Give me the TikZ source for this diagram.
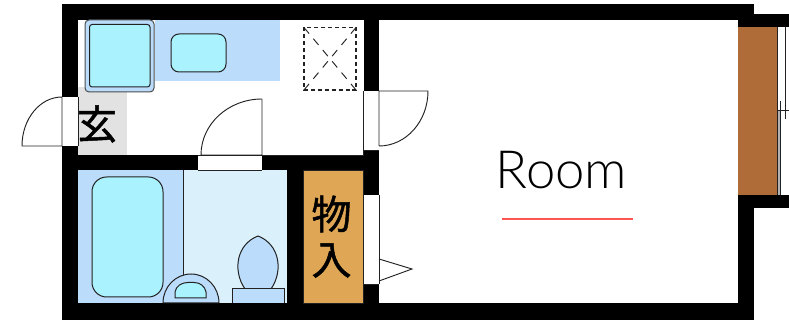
\documentclass[tikz,border=0pt]{standalone}
\usepackage{fontspec}
\setmainfont{Liberation Sans}
\newfontfamily\cjkf[FakeBold=1.2]{Noto Sans CJK JP}
\newfontfamily\roomf{Lato Light}
\definecolor{cyanfill}{HTML}{AAF3FE}
\definecolor{bluefill}{HTML}{BBDCFB}
\definecolor{palefill}{HTML}{DAF1FB}
\definecolor{closet}{HTML}{DFA755}
\definecolor{brownfill}{HTML}{B06C38}
\definecolor{entry}{HTML}{E2E2E2}
\definecolor{redline}{HTML}{FF5555}
\definecolor{ink}{HTML}{222222}
\tikzset{
  wall/.style={fill=black,draw=none},
  fixture/.style={draw=ink,line width=0.75pt},
  doorline/.style={draw=ink,line width=0.7pt},
  hatch/.style={draw=ink,line width=0.8pt,dash pattern=on 3pt off 2.2pt},
  hatchx/.style={draw=ink,line width=0.7pt,dash pattern=on 6pt off 5pt},
  kanji/.style={font=\cjkf\fontsize{30}{30}\selectfont,inner sep=0pt,text=black},
}
\begin{document}
\begin{tikzpicture}[x=0.75pt,y=-0.75pt]
\useasboundingbox (0,0) rectangle (789,323);
% walls
\fill[wall] (62,4) rectangle (754,320);
\fill[wall] (738,14) rectangle (789,27);
\fill[wall] (738,195) rectangle (789,208);
% rooms
\fill[white] (379,20) rectangle (738,303);
\fill[white] (78,20) rectangle (363.5,155);
\fill[entry] (78,87) rectangle (127,155);
\fill[bluefill] (78,170) rectangle (183,303);
\fill[palefill] (183,170) rectangle (287,303);
\fill[closet] (303,170) rectangle (363,303);
\draw[draw=ink,line width=0.5pt] (303,170) rectangle (363,303);
% openings
\fill[white] (62,97) rectangle (78,146);
\fill[white] (198,155) rectangle (262,170);
\fill[white] (363.5,91) rectangle (379,150);
\fill[white] (363.5,195) rectangle (379,284);
% window
\fill[brownfill] (738,27) rectangle (777,195);
\fill[white] (777,27) rectangle (789,195);
\fill[black!30] (778,110) rectangle (781,195);
\draw[draw=ink,line width=0.6pt] (777.5,27) -- (777.5,195);
\draw[draw=ink,line width=0.7pt] (785.5,27) -- (785.5,119);
\draw[draw=ink,line width=0.7pt] (780,101) -- (780,195);
\draw[draw=ink,line width=0.6pt] (777,110) -- (789,110);
% kitchen
\fill[bluefill] (155,20) rectangle (280,81);
\draw[fixture,draw=black!70,fill=bluefill,rounded corners=3pt] (85,20) rectangle (154,92);
\draw[fixture,fill=cyanfill,rounded corners=2pt] (89.5,24.5) rectangle (150,87);
\draw[fixture,fill=cyanfill,rounded corners=6pt] (171,34) rectangle (226,72);
% dashed box
\draw[hatch] (304,27.5) rectangle (356,90);
\draw[hatchx] (304,27.5) -- (356,90);
\draw[hatchx] (356,27.5) -- (304,90);
% doors
\draw[doorline] (62,97) -- (62,146) -- (22,146) arc[start angle=180,end angle=270,x radius=40,y radius=49];
\draw[doorline] (78,97) -- (78,146);
\draw[doorline] (262,99) -- (262,155) -- (201,155) arc[start angle=180,end angle=270,x radius=61,y radius=56];
\draw[doorline] (198,155) -- (363.5,155);
\draw[doorline] (198,170) -- (262,170);
\draw[doorline] (363.5,91) -- (363.5,155);
\draw[doorline] (363.5,150) -- (379,150);
\draw[doorline] (379,146) -- (379,91) -- (428,91) arc[start angle=0,end angle=90,x radius=49,y radius=55];
\draw[doorline] (363.5,195) -- (363.5,284) -- (379,284);
\draw[doorline] (379,195) -- (379,284);
\draw[doorline] (379,259) -- (412,269) -- (379,281);
% bath
\draw[fixture,fill=cyanfill,rounded corners=11pt] (92,177) rectangle (163,297);
\draw[fixture] (183,170) -- (183,275);
\draw[fixture,fill=bluefill] (163,303) arc[start angle=180,end angle=360,x radius=28,y radius=29] -- cycle;
\draw[fixture,fill=cyanfill] (175,298) -- (175,292) to[out=80,in=180] (188,282.5) -- (194,282.5) to[out=0,in=100] (206,292) -- (206,298) -- cycle;
% toilet
\draw[fixture,fill=bluefill] (245,289) .. controls (232,270) and (237,244) .. (258,236) .. controls (279,244) and (284,270) .. (271,289) -- cycle;
\draw[fixture,fill=bluefill] (232,303) -- (232,289) -- (284,289) -- (284,303);
% text
\node[kanji] (gen) at (97,124) {玄};
\node[kanji] (mono) at (331.5,214) {物};
\node[kanji] (iri) at (331.5,260.5) {入};
\node[font=\roomf\fontsize{39.5}{39.5}\selectfont,inner sep=0pt] (room) at (561.5,170.5) {Room};
\coordinate (ra) at (502,219);
\coordinate (rb) at (633,219);
\draw[draw=redline,line width=0.9pt] (ra) -- (rb);
\end{tikzpicture}
\end{document}
